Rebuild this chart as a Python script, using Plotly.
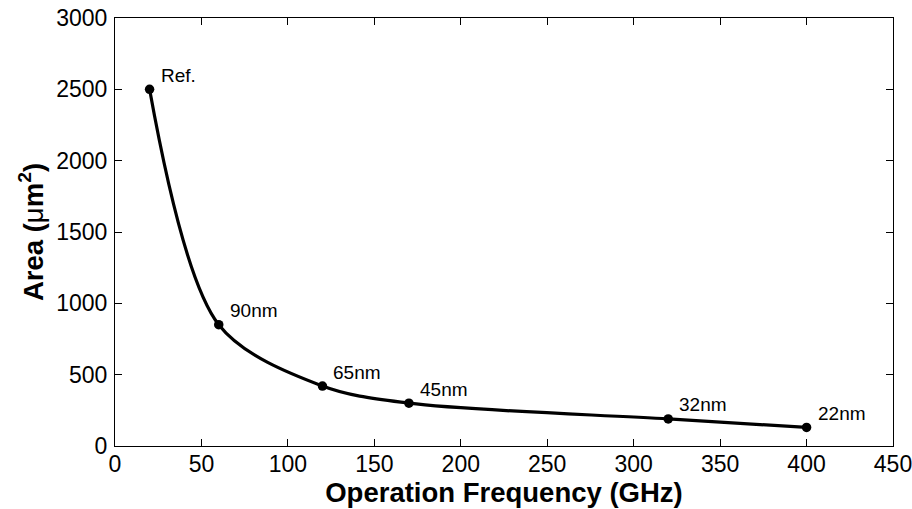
import plotly.graph_objects as go

freq = [20, 60, 120, 170, 320, 400]
area = [2500, 850, 420, 300, 190, 130]
labels = ["Ref.", "90nm", "65nm", "45nm", "32nm", "22nm"]
x_ticks = [0, 50, 100, 150, 200, 250, 300, 350, 400, 450]
y_ticks = [0, 500, 1000, 1500, 2000, 2500, 3000]

FONT = "Liberation Sans, Arial, Helvetica, sans-serif"

fig = go.Figure()
fig.add_trace(go.Scatter(
    x=freq, y=area, mode="lines+markers",
    line=dict(color="black", width=3.2, shape="spline", smoothing=0.9),
    marker=dict(color="black", size=9.5),
    showlegend=False, hoverinfo="skip",
))

for xv, yv, t in zip(freq, area, labels):
    fig.add_annotation(x=xv, y=yv, text=t, showarrow=False,
                       xanchor="left", yanchor="middle", xshift=9, yshift=14,
                       font=dict(family=FONT, size=19, color="black"))

axis_common = dict(
    showgrid=False, zeroline=False, showline=True, linecolor="black", linewidth=1.2,
    mirror="ticks", ticks="inside", ticklen=7, tickwidth=1, tickcolor="black",
    tickfont=dict(family=FONT, size=23, color="black"),
    ticklabeloverflow="allow",
)

fig.update_xaxes(range=[0, 450], tickvals=x_ticks, ticktext=[str(v) for v in x_ticks],
                 title=dict(text="<b>Operation Frequency (GHz)</b>", standoff=0,
                            font=dict(family=FONT, size=27.5, color="black")),
                 ticklabelstandoff=-3, **axis_common)
fig.update_yaxes(range=[0, 3000], tickvals=y_ticks, ticktext=[str(v) for v in y_ticks],
                 title=dict(text="<b>Area (</b>μ<b>m<sup>2</sup>)</b>", standoff=4,
                            font=dict(family=FONT, size=27.5, color="black")),
                 ticklabelstandoff=2, **axis_common)

fig.update_layout(
    width=912, height=509,
    margin=dict(l=115, r=19, t=18, b=63, autoexpand=False),
    plot_bgcolor="white", paper_bgcolor="white",
    font=dict(family=FONT, color="black"),
)

fig.write_html("out.html")
